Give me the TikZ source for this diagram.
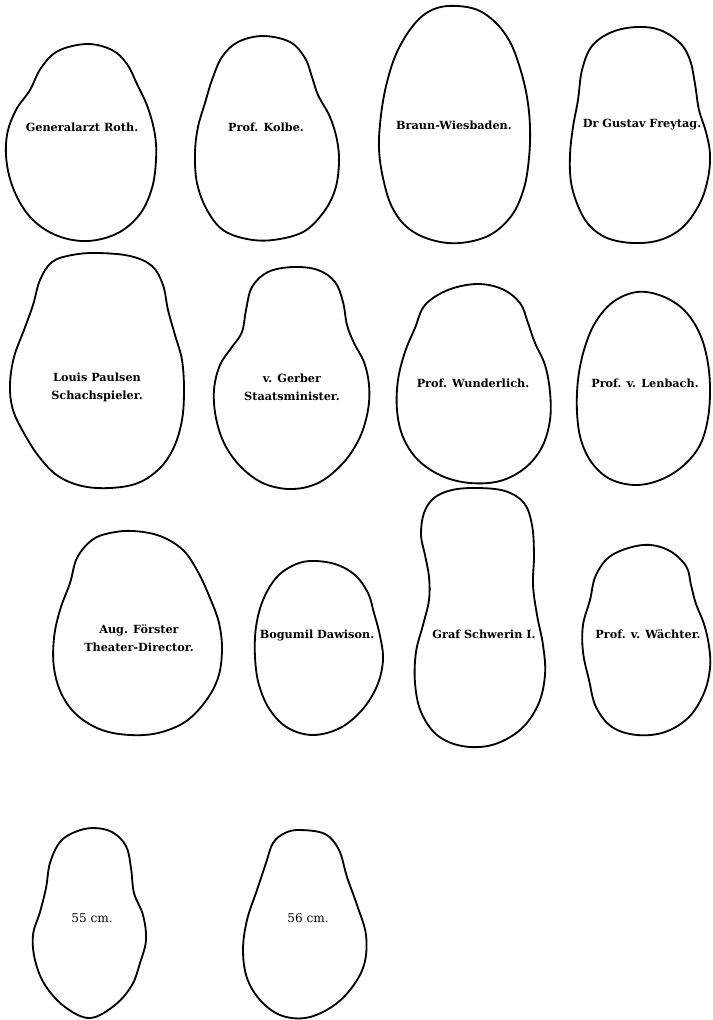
\documentclass[tikz,border=0pt]{standalone}
\usepackage{fontspec}
\setmainfont{DejaVu Serif}
\usepackage{tikz}
\usetikzlibrary{positioning}
\tikzset{
  outline/.style={draw=black, line width=1.3pt, line join=round,
                  smooth cycle, tension=0.6},
  caption/.style={font=\fontsize{8}{12.8}\selectfont\bfseries,
                  align=center, inner sep=0pt},
  sizecaption/.style={caption, font=\fontsize{8.6}{12.8}\selectfont},
}

\begin{document}
\begin{tikzpicture}[x=0.025cm, y=-0.025cm]
  \useasboundingbox (0,0) rectangle (712,1020);

  % First row
  \draw[outline] plot coordinates {(87,44) (112,50) (127,64) (137,84)
    (148,108) (155,135) (156,160) (152,188) (140,214) (118,233) (88,241)
    (58,236) (33,220) (16,195) (7,165) (7,135) (16,110) (30,90) (41,68)
    (58,51)};
  \node[caption] (roth) at (82,127) {Generalarzt Roth.};

  \draw[outline] plot coordinates {(263,36) (290,42) (305,58) (312,77)
    (318,95) (330,117) (337,140) (339,163) (335,190) (323,213) (303,232)
    (273,240) (247,239) (223,230) (207,210) (197,183) (195,153) (198,127)
    (205,103) (212,80) (222,57) (238,42)};
  \node[caption] (kolbe) at (266,127) {Prof. Kolbe.};

  \draw[outline] plot coordinates {(448,6) (475,9) (495,22) (510,42)
    (520,68) (527,97) (530,127) (529,158) (524,188) (512,215) (490,235)
    (460,243) (432,240) (408,228) (392,207) (383,178) (379,148) (381,115)
    (387,82) (397,52) (412,27) (428,12)};
  \node[caption] (braun) at (454,125) {Braun-Wiesbaden.};

  \draw[outline] plot coordinates {(637,27) (660,30) (680,43) (690,60)
    (695,84) (699,110) (706,132) (710,154) (708,178) (700,203) (683,227)
    (660,240) (633,243) (607,238) (589,225) (578,206) (571,182) (570,155)
    (573,127) (578,100) (582,70) (592,46) (612,32)};
  \node[caption] (freytag) at (642,125) {Dr Gustav Freytag.};

  % Second row
  \draw[outline] plot coordinates {(97,253) (130,256) (152,266) (163,285)
    (168,310) (175,335) (182,360) (184,390) (182,420) (174,447) (160,468)
    (138,483) (110,488) (82,486) (58,476) (40,458) (25,435) (13,410)
    (10,385) (14,357) (24,330) (33,305) (40,280) (52,262) (72,255)};
  \node[caption] (paulsen) at (97,387) {Louis Paulsen\\Schachspieler.};

  \draw[outline] plot coordinates {(293,267) (318,270) (335,282) (343,302)
    (347,325) (354,343) (364,362) (369,385) (368,410) (360,437) (344,462)
    (320,482) (293,489) (265,484) (242,468) (225,445) (216,418) (214,390)
    (220,365) (232,347) (242,332) (246,310) (252,287) (268,272)};
  \node[caption] (gerber) at (292,387) {v. Gerber\\Staatsminister.};

  \draw[outline] plot coordinates {(477,284) (502,289) (520,303) (528,323)
    (535,343) (545,365) (550,392) (550,420) (542,447) (525,468) (500,481)
    (470,483) (442,476) (418,460) (403,437) (397,410) (398,380) (405,352)
    (415,328) (425,305) (448,290)};
  \node[caption] (wunderlich) at (473,383) {Prof. Wunderlich.};

  \draw[outline] plot coordinates {(637,292) (662,296) (684,310) (699,332)
    (707,358) (710,387) (708,418) (700,445) (683,466) (660,480) (635,485)
    (610,479) (592,463) (581,440) (577,412) (578,380) (584,350) (595,323)
    (613,302)};
  \node[caption] (lenbach) at (645,383) {Prof. v. Lenbach.};

  % Third row
  \draw[outline] plot coordinates {(133,531) (160,536) (183,550) (198,572)
    (210,598) (219,623) (222,650) (218,678) (205,702) (185,722) (158,733)
    (130,735) (102,730) (78,716) (62,695) (54,668) (54,638) (60,610)
    (70,583) (77,558) (92,540) (110,533)};
  \node[caption] (foerster) at (139,638) {Aug. Förster\\Theater-Director.};

  \draw[outline] plot coordinates {(310,561) (335,564) (355,575) (368,593)
    (374,613) (380,636) (383,660) (377,686) (362,710) (340,728) (313,735)
    (288,728) (270,710) (259,685) (255,657) (256,627) (263,600) (276,578)
    (292,566)};
  \node[caption] (dawison) at (317,635) {Bogumil Dawison.};

  \draw[outline] plot coordinates {(477,488) (505,491) (524,503) (532,525)
    (534,555) (533,585) (537,615) (543,645) (545,675) (538,705) (520,730)
    (492,745) (462,746) (437,735) (421,712) (415,683) (416,652) (423,625)
    (429,600) (429,577) (425,555) (421,535) (424,513) (434,498) (452,490)};
  \node[caption] (schwerin) at (484,634) {Graf Schwerin I.};

  \draw[outline] plot coordinates {(643,545) (668,550) (686,566) (691,585)
    (696,604) (704,624) (709,646) (710,668) (704,693) (689,717) (665,732)
    (637,735) (612,727) (596,707) (589,680) (583,652) (583,625) (590,600)
    (596,575) (612,555)};
  \node[caption] (waechter) at (648,634) {Prof. v. Wächter.};

  % Bottom row
  \draw[outline] plot coordinates {(93,828) (112,832) (126,846) (131,868)
    (134,893) (143,915) (146,940) (140,963) (132,985) (115,1005) (90,1018)
    (65,1007) (45,985) (35,960) (33,935) (40,912) (46,888) (50,863)
    (60,842) (75,832)};
  \node[sizecaption] (cm55) at (92,918) {55 cm.};

  \draw[outline] plot coordinates {(300,830) (325,834) (339,850) (347,877)
    (357,905) (366,935) (364,965) (350,990) (330,1008) (305,1018)
    (280,1015) (260,1000) (247,978) (243,950) (247,920) (257,890)
    (266,863) (273,843) (285,833)};
  \node[sizecaption] (cm56) at (308,918) {56 cm.};
\end{tikzpicture}
\end{document}
